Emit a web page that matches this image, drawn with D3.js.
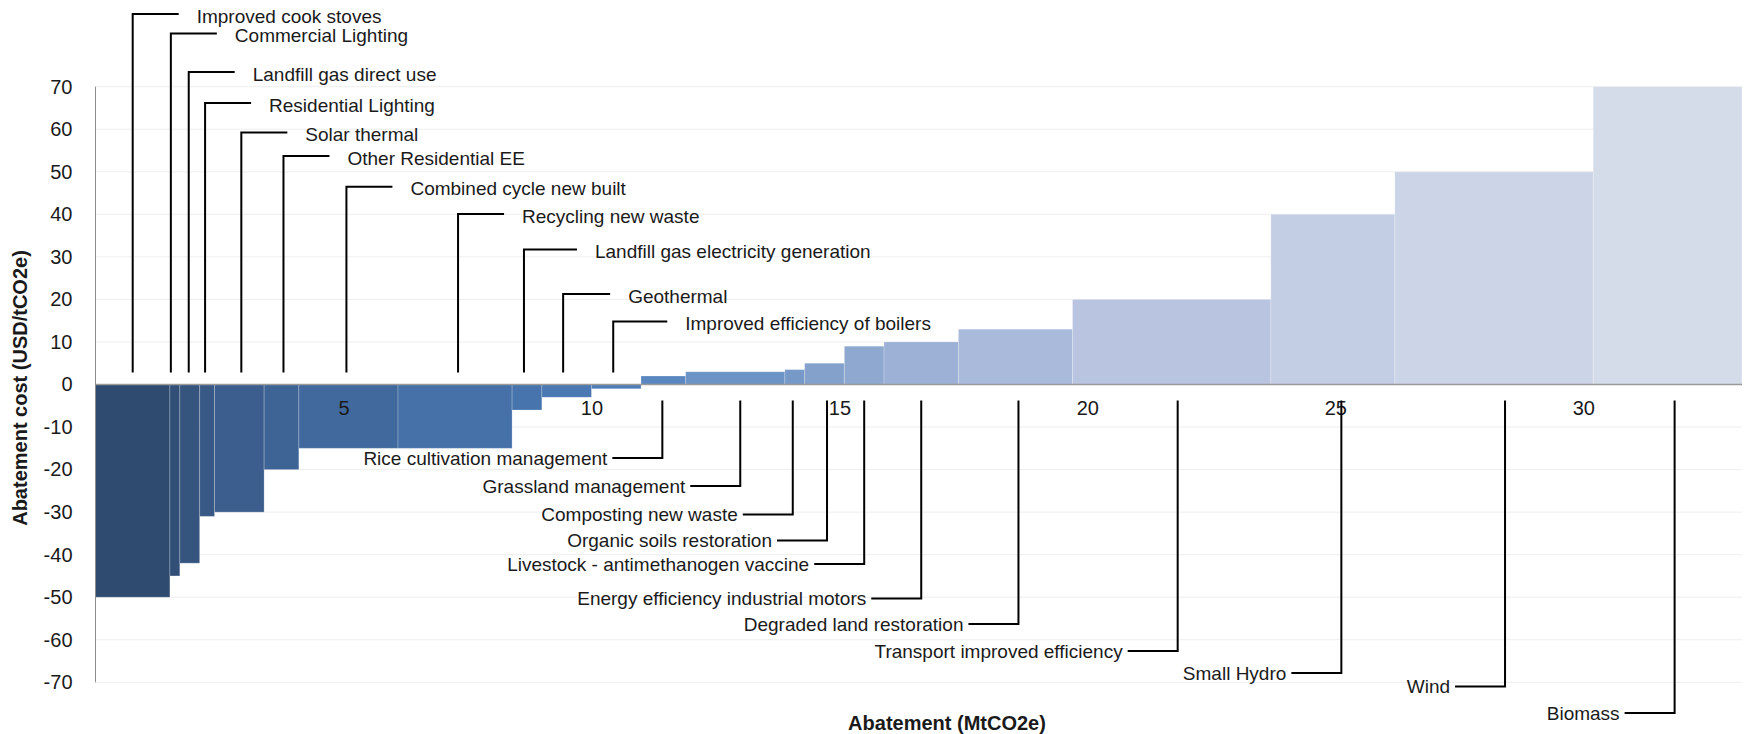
<!DOCTYPE html>
<html>
<head>
<meta charset="utf-8">
<script src="https://cdn.jsdelivr.net/npm/d3@7"></script>
<style>
  html, body { margin: 0; padding: 0; background: #fff; }
  svg { display: block; font-family: "Liberation Sans", Arial, sans-serif; }
</style>
</head>
<body>
<svg id="chart" width="1744" height="734"></svg>
<script>
// ---------- data ----------
const categories = [
  "Improved cook stoves", "Commercial Lighting", "Landfill gas direct use",
  "Residential Lighting", "Solar thermal", "Other Residential EE",
  "Combined cycle new built", "Recycling new waste",
  "Landfill gas electricity generation", "Geothermal",
  "Improved efficiency of boilers", "Rice cultivation management",
  "Grassland management", "Composting new waste", "Organic soils restoration",
  "Livestock - antimethanogen vaccine", "Energy efficiency industrial motors",
  "Degraded land restoration", "Transport improved efficiency",
  "Small Hydro", "Wind", "Biomass"
];
// abatement potential (MtCO2e) = bar width
const abatement = [1.5, 0.2, 0.4, 0.3, 1.0, 0.7, 2.0, 2.3, 0.6, 1.0, 1.0,
                   0.9, 2.0, 0.4, 0.8, 0.8, 1.5, 2.3, 4.0, 2.5, 4.0, 3.0];
// abatement cost (USD/tCO2e) = bar height
const cost = [-50, -45, -42, -31, -30, -20, -15, -15, -6, -3, -1,
              2, 3, 3.5, 5, 9, 10, 13, 20, 40, 50, 70];
const xTickValues = [5, 10, 15, 20, 25, 30];
const yTickValues = [70, 60, 50, 40, 30, 20, 10, 0, -10, -20, -30, -40, -50, -60, -70];

// ---------- styling / layout ----------
const barColors = [
  "#2f4b6f", "#324f77", "#35547e", "#385885", "#3b5e8e", "#3e6395",
  "#41699d", "#4571a8", "#4774ad", "#4a78b2", "#4f7db8",
  "#5a87c0", "#6b93c6", "#7699c8", "#84a1cc", "#8fa8d0", "#9cb1d5",
  "#a9badb", "#b9c5e0", "#c3cde3", "#ccd5e7", "#d5dce9"
];
// y pixel of each label's horizontal leader
const labelLevel = [14, 33.5, 72, 103, 132.5, 156, 186.7, 214, 249.5, 294, 321.5,
                    458, 486, 514.5, 540.5, 564, 598.5, 624, 651, 673, 686.5, 713];
// horizontal nudge of the vertical leader from bar centre (px)
const leaderNudge = [0, -4, -1, -2, 2, 2, -2, 3, -3, -3.5, -3,
                     -1, 5, -2, 2.5, 0, 0, 3, 6, 8.5, 11, 7];
const topLeaderLen = [46, 46, 46, 46, 46, 46, 46, 46, 53, 47, 54];

const svg = d3.select("#chart");

const total = d3.sum(abatement);
const x = d3.scaleLinear().domain([0, total]).range([95.5, 1742]);
const y = d3.scaleLinear().domain([-70, 70]).range([682.3, 86.7]);

const starts = [];
abatement.reduce((acc, w, i) => { starts[i] = acc; return acc + w; }, 0);
const bars = categories.map((c, i) => ({
  name: c, start: starts[i], end: starts[i] + abatement[i], cost: cost[i],
  color: barColors[i], level: labelLevel[i], nudge: leaderNudge[i], idx: i
}));

// gridlines
svg.append("g").selectAll("line").data(yTickValues.filter(v => v !== 0)).join("line")
  .attr("x1", x(0)).attr("x2", x(total))
  .attr("y1", d => y(d)).attr("y2", d => y(d))
  .attr("stroke", "#eeeeee").attr("stroke-width", 1);

// bars
svg.append("g").selectAll("rect").data(bars).join("rect")
  .attr("x", d => x(d.start))
  .attr("width", d => x(d.end) - x(d.start))
  .attr("y", d => Math.min(y(d.cost), y(0)))
  .attr("height", d => Math.abs(y(d.cost) - y(0)))
  .attr("fill", d => d.color)
  .attr("stroke", "rgba(255,255,255,0.22)")
  .attr("stroke-width", 1);

// zero line
svg.append("line")
  .attr("x1", x(0)).attr("x2", x(total))
  .attr("y1", y(0)).attr("y2", y(0))
  .attr("stroke", "#9a9a9a").attr("stroke-width", 1.5);

// y axis
const yAxis = svg.append("g")
  .attr("transform", `translate(${x(0)},0)`)
  .call(d3.axisLeft(y).tickValues(yTickValues).tickSize(0).tickPadding(23)
        .tickFormat(d => String(d)));
yAxis.select(".domain").remove();
yAxis.append("line")
  .attr("x1", 0).attr("x2", 0).attr("y1", y(70)).attr("y2", y(-70))
  .attr("stroke", "#8c8c8c").attr("stroke-width", 1);
yAxis.selectAll("text")
  .attr("font-size", 20).attr("fill", "#1a1a1a")
  .attr("font-family", "Liberation Sans, Arial, sans-serif");

// x axis tick labels (drawn under the zero line, over the bars)
const xAxis = svg.append("g")
  .attr("transform", `translate(0,${y(0)})`)
  .call(d3.axisBottom(x).tickValues(xTickValues).tickSize(0).tickPadding(0)
        .tickFormat(d => String(d)));
xAxis.select(".domain").remove();
xAxis.selectAll("text")
  .attr("y", 23).attr("dy", "0.35em")
  .attr("font-size", 20).attr("fill", "#1a1a1a")
  .attr("font-family", "Liberation Sans, Arial, sans-serif");

// leader lines and labels
const lab = svg.append("g");
bars.forEach(d => {
  const cx = x((d.start + d.end) / 2) + d.nudge;
  if (d.cost < 0) {
    const len = topLeaderLen[d.idx];
    lab.append("path")
      .attr("d", `M${cx},${y(0) - 12}V${d.level}H${cx + len}`)
      .attr("fill", "none").attr("stroke", "#000").attr("stroke-width", 2);
    lab.append("text")
      .attr("x", cx + len + 18).attr("y", d.level + 8.5)
      .attr("font-size", 19).attr("fill", "#1a1a1a")
      .text(d.name);
  } else {
    lab.append("path")
      .attr("d", `M${cx},${y(0) + 16}V${d.level}H${cx - 50}`)
      .attr("fill", "none").attr("stroke", "#000").attr("stroke-width", 2);
    lab.append("text")
      .attr("x", cx - 55).attr("y", d.level + 6.5)
      .attr("text-anchor", "end")
      .attr("font-size", 19).attr("fill", "#1a1a1a")
      .text(d.name);
  }
});

// axis titles
svg.append("text")
  .attr("transform", `translate(20,388) rotate(-90)`)
  .attr("text-anchor", "middle").attr("dy", "0.35em")
  .attr("font-size", 20).attr("font-weight", "bold").attr("fill", "#1a1a1a")
  .text("Abatement cost (USD/tCO2e)");
svg.append("text")
  .attr("x", 947).attr("y", 723).attr("dy", "0.35em")
  .attr("text-anchor", "middle")
  .attr("font-size", 20).attr("font-weight", "bold").attr("fill", "#1a1a1a")
  .text("Abatement (MtCO2e)");
</script>
</body>
</html>
